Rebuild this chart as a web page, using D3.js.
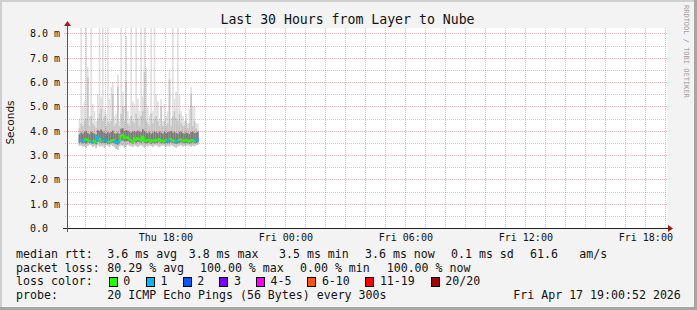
<!DOCTYPE html>
<html><head><meta charset="utf-8">
<script src="https://cdn.jsdelivr.net/npm/d3@7"></script>
<style>
html,body{margin:0;padding:0;background:#f3f3f3;}
svg{display:block;}
text{font-family:"DejaVu Sans Mono",monospace;fill:#111;}
</style>
</head><body>
<svg id="c" width="697" height="310"></svg>
<script>
// ---------------- DATA ----------------
const title = "Last 30 Hours from Layer to Nube";
const yLabel = "Seconds";
const viewStart = "2026-04-16T13:05:00";
const viewEnd = "2026-04-17T19:05:00";
const firstSampleEnd = "2026-04-16T13:45:00";
const stepMinutes = 5;
const yTicks = [0, 1, 2, 3, 4, 5, 6, 7, 8];           // ms
const yTickLabels = ["0.0", "1.0 m", "2.0 m", "3.0 m", "4.0 m", "5.0 m", "6.0 m", "7.0 m", "8.0 m"];

// median rtt (ms) per 5-minute sample
const median = [3.60,3.60,3.62,3.58,3.65,3.63,3.57,3.56,3.55,3.60,3.52,3.74,3.70,3.58,3.62,3.63,3.62,3.58,
                3.55,3.57,3.60,3.62,3.55,3.50,3.58,3.78,3.82,3.72,3.70,3.73,3.66,3.62,3.55,3.68,3.62,3.70,
                3.66,3.60,3.76,3.62,3.58,3.62,3.64,3.55,3.60,3.58,3.62,3.60,3.66,3.58,3.60,3.56,3.62,3.58,
                3.62,3.66,3.60,3.58,3.55,3.58,3.62,3.64,3.60,3.58,3.62,3.60,3.56,3.60,3.62,3.58,3.62,3.64];
// lost pings (of 20) per sample
const loss = [1,1,1,1,0,0,0,1,1,0,0,1,1,0,1,1,1,1,0,0,0,0,1,1,1,0,0,0,0,0,0,0,0,0,0,0,
              0,0,0,0,0,0,0,0,0,0,0,0,0,0,0,0,0,1,1,0,0,0,1,1,0,0,0,0,0,0,0,0,0,0,1,1];
// smoke: min, 25th pct, 75th pct, 90th pct, max (ms)
const pingMin = [3.38,3.40,3.36,3.35,3.30,3.38,3.42,3.40,3.33,3.37,3.28,3.40,3.35,3.38,3.36,3.30,3.40,3.38,
                 3.34,3.42,3.37,3.32,3.25,3.22,3.36,3.40,3.38,3.30,3.35,3.42,3.38,3.36,3.34,3.40,3.37,3.33,
                 3.38,3.40,3.36,3.30,3.38,3.35,3.40,3.37,3.34,3.38,3.40,3.36,3.33,3.38,3.40,3.36,3.34,3.38,
                 3.35,3.40,3.37,3.33,3.30,3.36,3.38,3.40,3.35,3.38,3.36,3.40,3.37,3.34,3.38,3.36,3.40,3.42];
const pingQ1 = [3.50,3.52,3.48,3.50,3.47,3.52,3.50,3.48,3.46,3.50,3.44,3.55,3.52,3.50,3.51,3.49,3.50,3.47,
                3.46,3.50,3.51,3.48,3.44,3.42,3.49,3.58,3.60,3.55,3.56,3.58,3.52,3.50,3.47,3.53,3.50,3.54,
                3.52,3.50,3.56,3.50,3.48,3.50,3.52,3.46,3.50,3.48,3.50,3.50,3.53,3.48,3.50,3.47,3.50,3.48,
                3.50,3.52,3.50,3.48,3.46,3.48,3.50,3.52,3.50,3.48,3.50,3.50,3.46,3.50,3.52,3.48,3.50,3.52];
const pingQ3 = [3.85,3.92,3.88,3.95,3.98,3.90,3.86,3.95,3.92,3.88,3.84,4.02,3.98,4.05,3.96,3.92,3.88,3.94,
                3.90,3.95,4.00,3.90,3.88,3.92,3.86,4.08,4.10,3.98,4.02,4.00,3.95,3.92,3.96,3.98,3.94,4.00,
                3.96,3.94,4.06,3.98,3.92,3.90,3.95,3.88,3.92,3.96,3.94,3.90,3.96,3.92,3.88,3.95,3.90,3.94,
                3.96,3.98,3.92,3.95,3.90,3.88,3.94,3.96,3.90,3.88,3.92,3.90,3.86,3.94,3.96,3.90,3.92,3.95];
const pingP90 = [4.1,4.3,4.2,4.4,4.5,6.2,4.2,4.6,4.3,4.2,4.1,4.5,4.7,4.9,4.4,4.6,4.2,4.4,
                 4.3,4.4,5.5,4.2,4.3,5.8,4.2,4.7,5.0,4.4,6.0,4.3,4.2,4.6,4.4,4.3,4.7,4.5,
                 4.2,4.6,4.8,6.4,4.4,4.3,4.2,4.7,4.3,4.5,4.6,4.4,4.2,5.0,4.2,4.4,4.2,4.3,
                 6.1,4.2,4.6,4.8,4.5,4.4,4.7,4.3,4.2,4.2,4.4,4.1,4.3,5.5,4.2,4.4,4.1,4.0];
const pingMax = [4.5,9,5.0,5.2,9,6.6,4.6,9,5.1,4.8,4.4,5.5,9,5.4,9,4.9,4.7,9,
                 5.3,5.8,6.0,4.6,4.7,6.3,4.4,9,5.6,5.0,7.9,4.8,4.5,9,5.2,5.1,9,5.3,
                 4.8,9,5.4,9,6.6,5.0,4.6,9,4.8,9,5.5,5.2,4.5,5.3,4.4,5.1,4.6,4.8,
                 6.5,4.5,9,5.3,5.6,9,5.5,4.8,4.6,4.4,4.7,4.3,4.9,5.8,5.0,5.0,4.3,4.3];

const lossBins = ["0", "1", "2", "3", "4-5", "6-10", "11-19", "20/20"];
const lossBinMax = [0, 1, 2, 3, 5, 10, 19, 20];

const rttStats = ["3.6 ms avg", "3.8 ms max", "3.5 ms min", "3.6 ms now", "0.1 ms sd", "61.6", "am/s"];
const lossStats = ["80.29 % avg", "100.00 % max", "0.00 % min", "100.00 % now"];
const rowLabels = ["median rtt:", "packet loss:", "loss color:", "probe:"];
const probeText = "20 ICMP Echo Pings (56 Bytes) every 300s";
const stampText = "Fri Apr 17 19:00:52 2026";
const sideText = "RRDTOOL / TOBI OETIKER";

// ---------------- STYLE / LAYOUT ----------------
const lossColors = ["#26ff00", "#00b8ff", "#0059ff", "#7e00ff", "#ff00ff", "#ff5500", "#ff0000", "#a10000"];
const rttX = [107.3, 188.7, 279, 365, 451, 530, 579.3];
const lossX = [107.3, 200, 300, 386.7];
const boxX = [108.7, 146, 182.7, 219.3, 256, 307.3, 365.3, 430.7];
const rowY = [258, 271.5, 285, 299];
const plot = {left: 67, right: 667, top: 28, bottom: 228};

const svg = d3.select("#c");
const W = 697, H = 310;

// frame
svg.append("rect").attr("width", W).attr("height", H).attr("fill", "#f3f3f3");
svg.append("rect").attr("x", 0).attr("y", 0).attr("width", W).attr("height", 2).attr("fill", "#cfcfcf");
svg.append("rect").attr("x", 0).attr("y", 0).attr("width", 2).attr("height", H).attr("fill", "#cfcfcf");
svg.append("rect").attr("x", W - 3).attr("y", 0).attr("width", 3).attr("height", H).attr("fill", "#a6a6a6");
svg.append("rect").attr("x", 0).attr("y", H - 3).attr("width", W).attr("height", 3).attr("fill", "#a6a6a6");

const parse = d3.timeParse("%Y-%m-%dT%H:%M:%S");
const x = d3.scaleTime().domain([parse(viewStart), parse(viewEnd)]).range([plot.left, plot.right]);
const y = d3.scaleLinear().domain([0, 8.22]).range([plot.bottom, plot.top]);

// plot background
svg.append("rect").attr("x", plot.left).attr("y", plot.top)
  .attr("width", plot.right - plot.left).attr("height", plot.bottom - plot.top).attr("fill", "#fff");

const t0 = parse(firstSampleEnd);
const samples = median.map((m, i) => {
  const end = d3.timeMinute.offset(t0, stepMinutes * i);
  const start = d3.timeMinute.offset(end, -stepMinutes);
  return {i, start, end, median: m, loss: loss[i], lo: pingMin[i], q1: pingQ1[i], q3: pingQ3[i], p90: pingP90[i], max: pingMax[i]};
});

svg.append("clipPath").attr("id", "clip").append("rect")
  .attr("x", plot.left).attr("y", plot.top).attr("width", plot.right - plot.left).attr("height", plot.bottom - plot.top);
const g = svg.append("g").attr("clip-path", "url(#clip)");

function band(key1, key2, color) {
  g.append("g").selectAll("rect").data(samples).join("rect")
    .attr("x", d => x(d.start))
    .attr("width", d => x(d.end) - x(d.start))
    .attr("y", d => y(d[key2]))
    .attr("height", d => y(d[key1]) - y(d[key2]))
    .attr("fill", color);
}
band("lo", "max", "#e0e0e0");
band("lo", "p90", "#c6c6c6");
band("q1", "q3", "#7c7c7c");

// median line segments coloured by loss
function lossColor(l) {
  const idx = lossBinMax.findIndex(v => l <= v);
  return lossColors[idx];
}
samples.forEach((d, i) => {
  const prev = i > 0 ? samples[i - 1].median : d.median;
  const pts = [[x(d.start), y(prev)], [x(d.start), y(d.median)], [x(d.end), y(d.median)]];
  g.append("path").attr("d", d3.line()(pts)).attr("fill", "none")
    .attr("stroke", lossColor(d.loss)).attr("stroke-width", 2);
});

// grid (drawn over data, semi-transparent)
const gridG = svg.append("g");
const minorX = x.ticks(d3.timeHour.every(1));
const majorX = x.ticks(d3.timeHour.every(3));
const majorSet = new Set(majorX.map(d => +d));
const minorCol = "rgba(120,120,120,0.38)", majorCol = "rgba(210,0,0,0.26)";
gridG.selectAll("line.vminor").data(minorX.filter(d => !majorSet.has(+d))).join("line")
  .attr("x1", d => Math.round(x(d)) + 0.5).attr("x2", d => Math.round(x(d)) + 0.5)
  .attr("y1", plot.top).attr("y2", plot.bottom + 2)
  .attr("stroke", minorCol).attr("stroke-dasharray", "1,1");
gridG.selectAll("line.vmajor").data(majorX).join("line")
  .attr("x1", d => Math.round(x(d)) + 0.5).attr("x2", d => Math.round(x(d)) + 0.5)
  .attr("y1", plot.top).attr("y2", plot.bottom + 2)
  .attr("stroke", majorCol).attr("stroke-dasharray", "1,1");
const minorY = d3.range(0.5, 8.22, 1);
gridG.selectAll("line.hminor").data(minorY).join("line")
  .attr("x1", plot.left - 2).attr("x2", plot.right)
  .attr("y1", d => Math.round(y(d)) + 0.5).attr("y2", d => Math.round(y(d)) + 0.5)
  .attr("stroke", minorCol).attr("stroke-dasharray", "1,1");
gridG.selectAll("line.hmajor").data(yTicks.filter(v => v > 0)).join("line")
  .attr("x1", plot.left - 3).attr("x2", plot.right)
  .attr("y1", d => Math.round(y(d)) + 0.5).attr("y2", d => Math.round(y(d)) + 0.5)
  .attr("stroke", majorCol).attr("stroke-dasharray", "1,1");

// axes via d3
const xAxis = d3.axisBottom(x).tickValues(x.ticks(d3.timeHour.every(6)))
  .tickFormat(d3.timeFormat("%a %H:%M")).tickSize(0).tickPadding(5.5);
const xa = svg.append("g").attr("transform", `translate(0,${plot.bottom})`).call(xAxis);
xa.select(".domain").remove();
xa.selectAll("text").attr("font-family", "DejaVu Sans Mono").attr("font-size", "10px").attr("fill", "#111");

const yAxis = d3.axisLeft(y).tickValues(yTicks).tickFormat((d, i) => yTickLabels[i]).tickSize(0);
const ya = svg.append("g").attr("transform", `translate(${plot.left},0)`).call(yAxis);
ya.select(".domain").remove();
ya.selectAll("text").attr("font-family", "DejaVu Sans Mono").attr("font-size", "10px").attr("fill", "#111")
  .attr("text-anchor", "start").attr("x", 30 - plot.left).attr("dy", "0.36em");

// axis lines + arrows
svg.append("line").attr("x1", plot.left - 4).attr("x2", plot.right + 2)
  .attr("y1", plot.bottom + 0.5).attr("y2", plot.bottom + 0.5).attr("stroke", "#222");
svg.append("line").attr("x1", plot.left + 0.5).attr("x2", plot.left + 0.5)
  .attr("y1", plot.bottom + 4).attr("y2", plot.top - 3).attr("stroke", "#555");
svg.append("path").attr("d", `M${plot.left + 0.5 - 3.5},${plot.top - 2} L${plot.left + 0.5 + 3.5},${plot.top - 2} L${plot.left + 0.5},${plot.top - 7} Z`).attr("fill", "#9b1c1c");
svg.append("path").attr("d", `M${plot.right + 1},${plot.bottom + 0.5 - 3.5} L${plot.right + 1},${plot.bottom + 0.5 + 3.5} L${plot.right + 6},${plot.bottom + 0.5} Z`).attr("fill", "#9b1c1c");

// title & labels
svg.append("text").attr("x", 347.5).attr("y", 23.5).attr("text-anchor", "middle")
  .attr("font-size", "13.2px").text(title);
svg.append("text").attr("transform", "translate(13.5,122.5) rotate(-90)").attr("text-anchor", "middle")
  .attr("style", "font-family:'DejaVu Sans'").attr("font-size", "10.5px").text(yLabel);
svg.append("text").attr("transform", "translate(684,5) rotate(90)").attr("text-anchor", "start")
  .attr("font-size", "7px").attr("style", "fill:#a0a0a0").text(sideText);

// legend
const fs = "11.6px";
rowLabels.forEach((t, r) => svg.append("text").attr("x", 16).attr("y", rowY[r]).attr("font-size", fs).text(t));
rttStats.forEach((t, i) => svg.append("text").attr("x", rttX[i]).attr("y", rowY[0]).attr("font-size", fs).text(t));
lossStats.forEach((t, i) => svg.append("text").attr("x", lossX[i]).attr("y", rowY[1]).attr("font-size", fs).text(t));
lossBins.forEach((t, i) => {
  svg.append("rect").attr("x", Math.round(boxX[i]) + 0.5).attr("y", 277.5).attr("width", 8).attr("height", 9)
    .attr("fill", lossColors[i]).attr("stroke", "#000");
  svg.append("text").attr("x", boxX[i] + 14.6).attr("y", rowY[2]).attr("font-size", fs).text(t);
});
svg.append("text").attr("x", 107.3).attr("y", rowY[3]).attr("font-size", fs).text(probeText);
svg.append("text").attr("x", 513.3).attr("y", rowY[3]).attr("font-size", fs).text(stampText);
</script>
</body></html>
